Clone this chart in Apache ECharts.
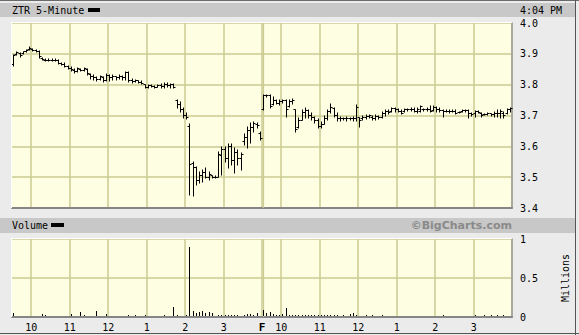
<!DOCTYPE html>
<html><head><meta charset="utf-8">
<script src="https://cdn.jsdelivr.net/npm/echarts@6/dist/echarts.min.js"></script>
<style>html,body{margin:0;padding:0;background:#ebebeb;}#c{width:579px;height:335px;}</style>
</head><body><div id="c"></div>
<script>
// ---- data ----
const priceOpen = [
3.865,3.897,3.900,3.902,3.907,3.913,3.915,3.912,3.906,3.886,3.880,3.880,3.880,3.879,3.878,3.869,3.867,3.860,3.854,3.847,
3.844,3.850,3.847,3.850,3.834,3.825,3.822,3.818,3.824,3.815,3.829,3.822,3.825,3.822,3.828,3.822,3.838,3.812,3.809,3.812,
3.807,3.800,3.792,3.796,3.794,3.792,3.797,3.794,3.800,3.796,3.799,3.748,3.735,3.718,3.700,3.665,3.545,3.530,3.490,3.505,
3.515,3.500,3.505,3.500,3.500,3.570,3.590,3.560,3.600,3.555,3.580,3.560,3.615,3.630,3.650,3.660,3.672,3.640,
3.720,3.765,3.766,3.735,3.748,3.740,3.745,3.748,3.728,3.745,3.718,3.660,3.685,3.710,3.715,3.700,3.692,3.685,3.665,3.672,
3.690,3.712,3.722,3.700,3.690,3.689,3.689,3.690,3.689,3.690,3.692,3.690,3.695,3.698,3.695,3.690,3.698,3.695,3.708,3.712,
3.712,3.722,3.720,3.714,3.712,3.720,3.718,3.721,3.714,3.712,3.718,3.718,3.720,3.715,3.725,3.718,3.715,3.714,3.714,3.714,
3.714,3.710,3.712,3.716,3.715,3.705,3.705,3.712,3.708,3.702,3.704,3.705,3.702,3.708,3.705,3.708,3.705,3.718];
const priceHigh = [
3.896,3.907,3.903,3.907,3.914,3.922,3.916,3.913,3.909,3.887,3.883,3.882,3.883,3.882,3.880,3.870,3.870,3.861,3.857,3.851,
3.854,3.851,3.854,3.851,3.835,3.831,3.825,3.828,3.825,3.835,3.831,3.831,3.826,3.831,3.828,3.841,3.840,3.818,3.815,3.812,
3.812,3.800,3.799,3.799,3.796,3.799,3.802,3.805,3.805,3.802,3.802,3.750,3.744,3.724,3.708,3.672,3.549,3.533,3.517,3.523,
3.530,3.517,3.505,3.503,3.582,3.598,3.598,3.608,3.608,3.595,3.588,3.579,3.640,3.663,3.676,3.679,3.676,3.647,
3.767,3.767,3.767,3.760,3.750,3.750,3.750,3.750,3.750,3.754,3.718,3.692,3.718,3.724,3.718,3.708,3.695,3.689,3.679,3.698,
3.718,3.737,3.724,3.708,3.695,3.692,3.695,3.692,3.695,3.734,3.692,3.698,3.702,3.702,3.698,3.702,3.698,3.711,3.718,3.718,
3.724,3.724,3.721,3.718,3.721,3.721,3.724,3.724,3.724,3.731,3.721,3.724,3.731,3.731,3.728,3.724,3.718,3.718,3.718,3.718,
3.718,3.711,3.718,3.718,3.718,3.708,3.715,3.715,3.708,3.705,3.708,3.705,3.711,3.718,3.718,3.711,3.721,3.724];
const priceLow = [
3.861,3.896,3.890,3.900,3.905,3.912,3.909,3.905,3.888,3.880,3.878,3.878,3.878,3.877,3.867,3.864,3.858,3.851,3.845,3.838,
3.841,3.844,3.844,3.831,3.819,3.815,3.812,3.815,3.809,3.812,3.812,3.815,3.815,3.818,3.815,3.815,3.809,3.805,3.809,3.805,
3.802,3.789,3.789,3.792,3.789,3.792,3.789,3.789,3.792,3.789,3.789,3.724,3.711,3.692,3.689,3.442,3.439,3.475,3.481,3.484,
3.497,3.491,3.497,3.497,3.500,3.507,3.549,3.530,3.539,3.514,3.539,3.523,3.605,3.595,3.611,3.647,3.659,3.621,
3.718,3.760,3.724,3.734,3.737,3.734,3.741,3.695,3.728,3.737,3.647,3.659,3.685,3.692,3.692,3.685,3.676,3.659,3.659,3.672,
3.685,3.708,3.695,3.682,3.682,3.686,3.682,3.686,3.682,3.682,3.663,3.685,3.689,3.692,3.685,3.685,3.689,3.692,3.698,3.705,
3.711,3.711,3.711,3.705,3.711,3.715,3.715,3.711,3.708,3.711,3.715,3.715,3.711,3.715,3.711,3.711,3.695,3.711,3.708,3.711,
3.705,3.708,3.711,3.711,3.692,3.698,3.695,3.708,3.695,3.702,3.702,3.698,3.695,3.695,3.692,3.692,3.705,3.711];
const priceClose = [
3.893,3.905,3.896,3.906,3.912,3.916,3.912,3.909,3.890,3.881,3.880,3.880,3.879,3.880,3.869,3.867,3.860,3.854,3.848,3.844,
3.851,3.847,3.852,3.835,3.825,3.822,3.818,3.825,3.815,3.830,3.822,3.828,3.822,3.828,3.822,3.838,3.812,3.809,3.812,3.807,
3.805,3.792,3.796,3.794,3.792,3.797,3.794,3.800,3.796,3.799,3.792,3.735,3.718,3.700,3.692,3.540,3.530,3.490,3.505,3.515,
3.500,3.510,3.500,3.500,3.572,3.590,3.560,3.600,3.555,3.580,3.560,3.575,3.630,3.650,3.660,3.675,3.668,3.625,
3.765,3.766,3.730,3.750,3.740,3.745,3.748,3.720,3.745,3.750,3.655,3.685,3.710,3.715,3.700,3.695,3.685,3.665,3.670,3.690,
3.712,3.725,3.700,3.690,3.689,3.689,3.690,3.689,3.690,3.725,3.685,3.695,3.698,3.700,3.690,3.698,3.695,3.708,3.712,3.710,
3.722,3.720,3.714,3.708,3.720,3.718,3.721,3.714,3.720,3.728,3.718,3.720,3.713,3.725,3.718,3.715,3.714,3.714,3.714,3.714,
3.708,3.710,3.716,3.715,3.705,3.702,3.712,3.710,3.700,3.704,3.706,3.702,3.708,3.705,3.712,3.700,3.718,3.722];
// volume, millions of shares
const volume = [
0.05,0,0,0,0,0,0,0,0,0.04,0.02,0,0,0,0,0,0,0,0.04,0,
0,0.065,0.02,0,0,0,0.08,0,0,0.035,0,0,0,0,0,0,0.03,0,0.03,0,
0,0.03,0,0,0,0,0,0.02,0,0,0.13,0.03,0,0,0.03,0.90,0.08,0.05,0.06,0.08,
0.05,0.06,0.05,0,0.03,0.03,0.03,0.02,0.02,0.02,0.03,0,0.03,0.04,0.04,0.03,0.05,0,
0.09,0.05,0.07,0.04,0.03,0.03,0.04,0.12,0.03,0.02,0.03,0.02,0.02,0.03,0.02,0.02,0.03,0.02,0.03,0.02,
0.03,0.02,0.02,0.02,0,0.02,0,0.04,0.05,0.03,0,0,0.02,0,0.02,0,0,0.02,0,0,
0,0,0,0,0,0,0,0,0,0,0,0,0,0,0,0,0.02,0,0,0,
0,0,0,0,0,0,0.02,0,0,0.02,0,0.02,0,0.02,0,0.03];
// hour tick positions (bar index) and their labels
const hourIdx = [6,18,30,42,54,66,78,84,96,108,120,132,144];
const hourLabels = ['10','11','12','1','2','3','F','10','11','12','1','2','3'];
const dayBreakIdx = 78;
const priceTicks = {min:3.4, max:4.0, step:0.1};
const volTicks = {min:0, max:1, step:0.5};
const titleText = 'ZTR 5-Minute';
const timeText = '4:04 PM';

// categories: 5-minute bars for two sessions
const times = [];
for (let d = 0; d < 2; d++) {
  for (let k = 0; k < 78; k++) {
    const t = 570 + 5 * k;
    const h = Math.floor(t / 60), m = t % 60;
    times.push('D' + (d + 1) + ' ' + h + ':' + (m < 10 ? '0' : '') + m);
  }
}
const ohlc = times.map((t, i) => [i, priceOpen[i], priceHigh[i], priceLow[i], priceClose[i]]);
const vol = times.map((t, i) => [i, volume[i]]);

const MONO = '"DejaVu Sans Mono", "Liberation Mono", monospace';
const GRIDC = '#cbcb92';
const hourSet = new Set(hourIdx);

const chart = echarts.init(document.getElementById('c'), null, {renderer: 'svg', width: 579, height: 335});

function ohlcItem(params, api) {
  const i = api.value(0);
  const o = api.coord([i, api.value(1)]);
  const h = api.coord([i, api.value(2)]);
  const l = api.coord([i, api.value(3)]);
  const c = api.coord([i, api.value(4)]);
  const x = Math.round(o[0] - 0.5) + 0.5;
  const oy = Math.round(o[1] - 0.5) + 0.5;
  const cy = Math.round(c[1] - 0.5) + 0.5;
  const st = {stroke: '#000', lineWidth: 1};
  return {type: 'group', children: [
    {type: 'line', shape: {x1: x, y1: Math.round(h[1]) - 0.5, x2: x, y2: Math.round(l[1]) + 0.5}, style: st},
    {type: 'line', shape: {x1: x - 2, y1: oy, x2: x, y2: oy}, style: st},
    {type: 'line', shape: {x1: x, y1: cy, x2: x + 2, y2: cy}, style: st}
  ]};
}
function volItem(params, api) {
  const i = api.value(0);
  const v = api.value(1);
  if (!v) return null;
  const top = api.coord([i, v]);
  const base = api.coord([i, 0]);
  const x = Math.round(top[0] - 0.5) + 0.5;
  return {type: 'line', shape: {x1: x, y1: Math.round(top[1]), x2: x, y2: Math.round(base[1]) - 1},
          style: {stroke: '#000', lineWidth: 1}};
}

const option = {
  backgroundColor: '#ebebeb',
  animation: false,
  grid: [
    {left: 12, top: 23, width: 500, height: 185, show: true, backgroundColor: '#fefee2', borderWidth: 0},
    {left: 12, top: 239, width: 500, height: 78, show: true, backgroundColor: '#fefee2', borderWidth: 0}
  ],
  xAxis: [
    {gridIndex: 0, type: 'category', data: times, boundaryGap: true,
     axisLine: {show: true, lineStyle: {color: '#858585', width: 2}},
     axisTick: {show: false}, axisLabel: {show: false},
     splitLine: {show: true, interval: (i) => hourSet.has(i), lineStyle: {color: GRIDC, width: 1.5}}},
    {gridIndex: 1, type: 'category', data: times, boundaryGap: true,
     axisLine: {show: true, lineStyle: {color: '#858585', width: 2}},
     axisTick: {show: false},
     axisLabel: {show: true, interval: (i) => hourSet.has(i), margin: 5,
       fontFamily: MONO, fontSize: 10, color: '#000', padding: [0, 3, 0, 0],
       formatter: (v, i) => { const k = hourIdx.indexOf(i); if (k < 0) return ''; return hourLabels[k] === 'F' ? '{b|F}' : hourLabels[k]; },
       rich: {b: {fontFamily: MONO, fontSize: 11, fontWeight: 'bold', color: '#000'}}},
     splitLine: {show: true, interval: (i) => hourSet.has(i), lineStyle: {color: GRIDC, width: 1.5}}}
  ],
  yAxis: [
    {gridIndex: 0, type: 'value', position: 'right', min: priceTicks.min, max: priceTicks.max, interval: priceTicks.step,
     axisLine: {show: true, lineStyle: {color: '#9a9a9a', width: 1.5}}, axisTick: {show: false},
     axisLabel: {margin: 8, fontFamily: MONO, fontSize: 10, color: '#000', formatter: (v) => v.toFixed(1)},
     splitLine: {show: true, lineStyle: {color: GRIDC, width: 1.5}}},
    {gridIndex: 1, type: 'value', position: 'right', min: volTicks.min, max: volTicks.max, interval: volTicks.step,
     axisLine: {show: true, lineStyle: {color: '#9a9a9a', width: 1.5}}, axisTick: {show: false},
     axisLabel: {margin: 8, fontFamily: MONO, fontSize: 10, color: '#000', formatter: (v) => String(v)},
     name: 'Millions', nameLocation: 'middle', nameRotate: 90, nameGap: 48,
     nameTextStyle: {fontFamily: MONO, fontSize: 10, color: '#000'},
     splitLine: {show: true, lineStyle: {color: GRIDC, width: 1.5}}}
  ],
  series: [
    {type: 'custom', xAxisIndex: 0, yAxisIndex: 0, data: ohlc, encode: {x: 0, y: [1, 2, 3, 4]}, renderItem: ohlcItem, z: 5,
     markLine: {silent: true, symbol: 'none', label: {show: false}, lineStyle: {color: GRIDC, width: 1.2, type: 'solid'},
       data: [{xAxis: times[dayBreakIdx]}]}},
    {type: 'custom', xAxisIndex: 1, yAxisIndex: 1, data: vol, encode: {x: 0, y: 1}, renderItem: volItem, z: 5,
     markLine: {silent: true, symbol: 'none', label: {show: false}, lineStyle: {color: GRIDC, width: 1.2, type: 'solid'},
       data: [{xAxis: times[dayBreakIdx]}]}}
  ],
  graphic: [
    {type: 'rect', shape: {x: 0, y: 0, width: 579, height: 1}, style: {fill: '#6a6a6a'}, z: 100},
    {type: 'rect', shape: {x: 0, y: 3, width: 575, height: 14}, style: {fill: '#c8c8c8'}, z: 100},
    {type: 'rect', shape: {x: 0, y: 218, width: 575, height: 15}, style: {fill: '#c8c8c8'}, z: 100},
    {type: 'rect', shape: {x: 575, y: 0, width: 1, height: 335}, style: {fill: '#555'}, z: 100},
    {type: 'rect', shape: {x: 0, y: 333, width: 579, height: 1}, style: {fill: '#555'}, z: 100},
    // plot bevels
    {type: 'rect', shape: {x: 11, y: 22, width: 501, height: 1}, style: {fill: '#fff'}, z: 100},
    {type: 'rect', shape: {x: 11, y: 22, width: 1, height: 186}, style: {fill: '#fff'}, z: 100},
    {type: 'rect', shape: {x: 11, y: 238, width: 501, height: 1}, style: {fill: '#fff'}, z: 100},
    {type: 'rect', shape: {x: 11, y: 238, width: 1, height: 79}, style: {fill: '#fff'}, z: 100},
    // titles
    {type: 'text', x: 12, y: 10, style: {text: titleText, font: '10px ' + MONO, fill: '#000', verticalAlign: 'middle'}, z: 101},
    {type: 'rect', shape: {x: 88, y: 8, width: 12, height: 4}, style: {fill: '#000'}, z: 101},
    {type: 'text', x: 520, y: 10, style: {text: timeText, font: '10px ' + MONO, fill: '#000', verticalAlign: 'middle'}, z: 101},
    {type: 'text', x: 12, y: 225.5, style: {text: 'Volume', font: '10px ' + MONO, fill: '#000', verticalAlign: 'middle'}, z: 101},
    {type: 'rect', shape: {x: 51, y: 223, width: 13, height: 4}, style: {fill: '#000'}, z: 101},
    {type: 'text', x: 512, y: 225.5, style: {text: '©BigCharts.com', font: 'bold 11px "DejaVu Sans", Verdana, sans-serif', fill: '#8a8a8a', align: 'right', verticalAlign: 'middle'}, z: 101}
  ]
};
chart.setOption(option);
</script>
</body></html>
